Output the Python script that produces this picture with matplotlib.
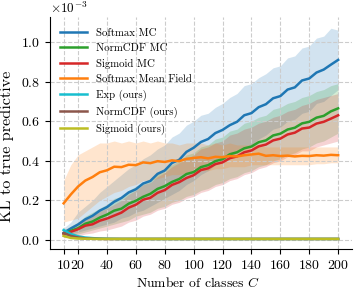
import numpy as np
import matplotlib
matplotlib.use("Agg")
import matplotlib.pyplot as plt
from matplotlib.ticker import ScalarFormatter

plt.rcParams["font.family"] = ["cmr10", "DejaVu Serif"]
plt.rcParams["mathtext.fontset"] = "cm"
plt.rcParams["axes.unicode_minus"] = False
plt.rcParams["axes.formatter.use_mathtext"] = True

# number of classes
classes = list(range(10, 201, 5))

# KL values in units of 1e-3
softmax_mc = [0.035, 0.058, 0.078, 0.104, 0.122, 0.148, 0.166, 0.193, 0.212, 0.24, 0.256, 0.285, 0.298,
              0.334, 0.351, 0.389, 0.405, 0.445, 0.466, 0.495, 0.51, 0.54, 0.556, 0.58, 0.597, 0.63,
              0.641, 0.671, 0.686, 0.716, 0.727, 0.76, 0.771, 0.806, 0.816, 0.846, 0.861, 0.886, 0.91]
softmax_mc_lo = [0.02, 0.03, 0.04, 0.05, 0.06, 0.07, 0.08, 0.09, 0.11, 0.12, 0.14, 0.15, 0.17,
                 0.19, 0.21, 0.23, 0.25, 0.28, 0.30, 0.33, 0.35, 0.38, 0.40, 0.42, 0.44, 0.47,
                 0.48, 0.51, 0.53, 0.56, 0.57, 0.60, 0.61, 0.64, 0.65, 0.69, 0.70, 0.73, 0.76]
softmax_mc_hi = [0.06, 0.09, 0.14, 0.17, 0.20, 0.24, 0.27, 0.30, 0.33, 0.36, 0.38, 0.41, 0.43,
                 0.46, 0.48, 0.52, 0.54, 0.58, 0.60, 0.63, 0.64, 0.67, 0.69, 0.72, 0.74, 0.78,
                 0.79, 0.82, 0.84, 0.87, 0.88, 0.92, 0.93, 0.97, 0.98, 1.02, 1.03, 1.07, 1.06]

normcdf_mc = [0.03, 0.046, 0.059, 0.082, 0.093, 0.113, 0.128, 0.148, 0.158, 0.183, 0.198, 0.218, 0.233,
              0.258, 0.272, 0.293, 0.308, 0.333, 0.343, 0.368, 0.378, 0.398, 0.408, 0.433, 0.443, 0.463,
              0.472, 0.494, 0.503, 0.528, 0.537, 0.558, 0.567, 0.589, 0.597, 0.618, 0.627, 0.65, 0.665]
normcdf_mc_lo = [0.015, 0.02, 0.03, 0.04, 0.05, 0.06, 0.07, 0.08, 0.09, 0.10, 0.12, 0.13, 0.14,
                 0.16, 0.17, 0.19, 0.20, 0.22, 0.23, 0.25, 0.26, 0.28, 0.29, 0.31, 0.32, 0.34,
                 0.35, 0.37, 0.38, 0.40, 0.41, 0.43, 0.44, 0.46, 0.47, 0.49, 0.50, 0.52, 0.54]
normcdf_mc_hi = [0.05, 0.07, 0.09, 0.12, 0.14, 0.16, 0.18, 0.21, 0.22, 0.25, 0.27, 0.29, 0.31,
                 0.34, 0.36, 0.38, 0.40, 0.43, 0.44, 0.47, 0.48, 0.51, 0.52, 0.55, 0.56, 0.59,
                 0.60, 0.62, 0.63, 0.66, 0.67, 0.69, 0.70, 0.72, 0.73, 0.75, 0.76, 0.78, 0.79]

sigmoid_mc = [0.03, 0.041, 0.054, 0.072, 0.079, 0.097, 0.108, 0.123, 0.138, 0.163, 0.178, 0.203, 0.213,
              0.238, 0.252, 0.278, 0.292, 0.313, 0.327, 0.353, 0.362, 0.383, 0.392, 0.413, 0.422, 0.443,
              0.452, 0.473, 0.482, 0.503, 0.512, 0.533, 0.542, 0.563, 0.568, 0.588, 0.597, 0.613, 0.63]
sigmoid_mc_lo = [0.01, 0.015, 0.02, 0.03, 0.035, 0.045, 0.05, 0.06, 0.07, 0.09, 0.10, 0.12, 0.13,
                 0.15, 0.16, 0.18, 0.19, 0.21, 0.22, 0.24, 0.25, 0.27, 0.28, 0.30, 0.31, 0.33,
                 0.34, 0.36, 0.37, 0.39, 0.40, 0.42, 0.43, 0.45, 0.45, 0.47, 0.48, 0.49, 0.50]
sigmoid_mc_hi = [0.05, 0.065, 0.085, 0.11, 0.12, 0.145, 0.16, 0.18, 0.20, 0.23, 0.25, 0.28, 0.29,
                 0.32, 0.34, 0.37, 0.39, 0.41, 0.43, 0.46, 0.47, 0.49, 0.50, 0.53, 0.54, 0.56,
                 0.57, 0.59, 0.60, 0.62, 0.63, 0.65, 0.66, 0.68, 0.69, 0.71, 0.72, 0.73, 0.74]

softmax_mf = [0.185, 0.23, 0.27, 0.30, 0.318, 0.342, 0.352, 0.37, 0.368, 0.38, 0.378, 0.392, 0.388,
              0.398, 0.394, 0.402, 0.398, 0.41, 0.414, 0.418, 0.412, 0.42, 0.418, 0.424, 0.422, 0.428,
              0.432, 0.436, 0.425, 0.428, 0.424, 0.426, 0.422, 0.425, 0.424, 0.428, 0.426, 0.43, 0.428]
softmax_mf_lo = [0.09, 0.10, 0.11, 0.14, 0.17, 0.20, 0.22, 0.24, 0.25, 0.27, 0.28, 0.30, 0.30,
                 0.31, 0.32, 0.33, 0.33, 0.34, 0.35, 0.35, 0.35, 0.36, 0.36, 0.37, 0.37, 0.37,
                 0.38, 0.38, 0.38, 0.38, 0.38, 0.38, 0.38, 0.38, 0.38, 0.385, 0.385, 0.39, 0.39]
softmax_mf_hi = [0.30, 0.38, 0.43, 0.45, 0.47, 0.49, 0.49, 0.50, 0.49, 0.50, 0.49, 0.50, 0.49,
                 0.50, 0.49, 0.49, 0.48, 0.49, 0.49, 0.49, 0.48, 0.49, 0.48, 0.49, 0.48, 0.48,
                 0.48, 0.48, 0.47, 0.47, 0.47, 0.47, 0.47, 0.47, 0.47, 0.47, 0.47, 0.47, 0.47]

exp_ours = [0.05, 0.03, 0.018, 0.012, 0.009, 0.007, 0.006, 0.0055, 0.005, 0.005, 0.005, 0.005, 0.005,
            0.005, 0.005, 0.005, 0.005, 0.005, 0.005, 0.005, 0.005, 0.005, 0.005, 0.005, 0.005, 0.005,
            0.005, 0.005, 0.005, 0.005, 0.005, 0.005, 0.005, 0.005, 0.005, 0.005, 0.005, 0.005, 0.005]
normcdf_ours = [0.035, 0.02, 0.012, 0.008, 0.006, 0.0055, 0.005, 0.005, 0.005, 0.005, 0.005, 0.005, 0.005,
                0.005, 0.005, 0.005, 0.005, 0.005, 0.005, 0.005, 0.005, 0.005, 0.005, 0.005, 0.005, 0.005,
                0.005, 0.005, 0.005, 0.005, 0.005, 0.005, 0.005, 0.005, 0.005, 0.005, 0.005, 0.005, 0.005]
sigmoid_ours = [0.02, 0.01, 0.007, 0.006, 0.0055, 0.005, 0.005, 0.005, 0.005, 0.005, 0.005, 0.005, 0.005,
                0.005, 0.005, 0.005, 0.005, 0.005, 0.005, 0.005, 0.005, 0.005, 0.005, 0.005, 0.005, 0.005,
                0.005, 0.005, 0.005, 0.005, 0.005, 0.005, 0.005, 0.005, 0.005, 0.005, 0.005, 0.005, 0.005]

xticks = [10, 20, 40, 60, 80, 100, 120, 140, 160, 180, 200]

series = [
    ("Softmax MC", softmax_mc, softmax_mc_lo, softmax_mc_hi, "tab:blue"),
    ("NormCDF MC", normcdf_mc, normcdf_mc_lo, normcdf_mc_hi, "tab:green"),
    ("Sigmoid MC", sigmoid_mc, sigmoid_mc_lo, sigmoid_mc_hi, "tab:red"),
    ("Softmax Mean Field", softmax_mf, softmax_mf_lo, softmax_mf_hi, "tab:orange"),
    ("Exp (ours)", exp_ours, None, None, "tab:cyan"),
    ("NormCDF (ours)", normcdf_ours, None, None, "tab:brown"),
    ("Sigmoid (ours)", sigmoid_ours, None, None, "tab:olive"),
]

fig = plt.figure(figsize=(3.54, 2.94), dpi=100)
ax = fig.add_axes([0.141, 0.153, 0.853, 0.79])

x = np.array(classes)
for label, mean, lo, hi, color in series:
    if lo is not None:
        ax.fill_between(x, np.array(lo) * 1e-3, np.array(hi) * 1e-3, color=color, alpha=0.2, lw=0)
    ax.plot(x, np.array(mean) * 1e-3, color=color, lw=1.8, label=label)

ax.set_xlim(0.5, 209.5)
ax.set_ylim(-0.046e-3, 1.128e-3)
ax.set_xticks(xticks)
fmt = ScalarFormatter(useMathText=True)
fmt.set_powerlimits((-2, 2))
ax.yaxis.set_major_formatter(fmt)
ax.set_yticks([0, 0.2e-3, 0.4e-3, 0.6e-3, 0.8e-3, 1.0e-3])
ax.tick_params(labelsize=10)
ax.yaxis.get_offset_text().set_fontsize(9.5)

ax.grid(True, linestyle="--", color="#cccccc", lw=0.8)
ax.spines["top"].set_visible(False)
ax.spines["right"].set_visible(False)

ax.set_xlabel("Number of classes $C$", fontsize=9.8, va="top")
ax.xaxis.set_label_coords(0.49, -0.118)
ax.set_ylabel("KL to true predictive", fontsize=11.7)
ax.yaxis.set_label_coords(-0.119, 0.442)
ax.legend(loc="upper left", bbox_to_anchor=(0.033, 0.95), frameon=False, fontsize=7.8,
          handlelength=2.5, handletextpad=0.8, borderpad=0, borderaxespad=0, labelspacing=0.52)

fig.savefig("out.png", dpi=100)
